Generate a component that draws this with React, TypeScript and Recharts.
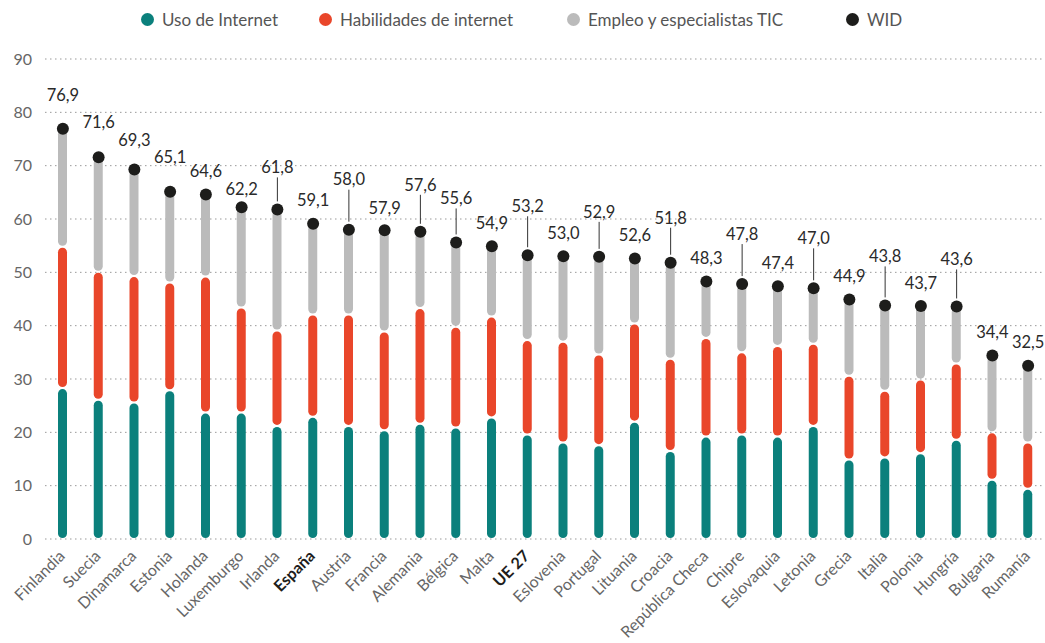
import { ComposedChart, Bar, Line, XAxis, YAxis, CartesianGrid, LabelList } from 'recharts'

const paises = [
  'Finlandia', 'Suecia', 'Dinamarca', 'Estonia', 'Holanda', 'Luxemburgo', 'Irlanda', 'España',
  'Austria', 'Francia', 'Alemania', 'Bélgica', 'Malta', 'UE 27', 'Eslovenia', 'Portugal',
  'Lituania', 'Croacia', 'República Checa', 'Chipre', 'Eslovaquia', 'Letonia', 'Grecia',
  'Italia', 'Polonia', 'Hungría', 'Bulgaria', 'Rumanía'
]

const usoInternet = [
  28.3, 26.1, 25.6, 27.9, 23.7, 23.7, 21.2, 22.9, 21.2, 20.4, 21.6, 20.9, 22.8, 19.6,
  18.1, 17.6, 22.0, 16.5, 19.2, 19.6, 19.2, 21.2, 14.9, 15.3, 16.1, 18.6, 11.1, 9.4
]

const habilidades = [
  26.5, 24.0, 23.7, 20.2, 25.5, 19.7, 17.9, 19.2, 20.9, 18.5, 21.7, 18.9, 18.9, 17.7,
  18.9, 17.0, 18.4, 17.3, 18.5, 15.4, 17.0, 15.4, 15.7, 12.5, 13.8, 14.3, 8.9, 8.7
]

const empleoTic = [
  22.1, 21.5, 20.0, 17.0, 15.4, 18.8, 22.7, 17.0, 15.9, 19.0, 14.3, 15.8, 13.2, 15.9,
  16.0, 18.3, 12.2, 18.0, 10.6, 12.8, 11.2, 10.4, 14.3, 16.0, 13.8, 10.7, 14.4, 14.4
]

const wid = [
  76.9, 71.6, 69.3, 65.1, 64.6, 62.2, 61.8, 59.1, 58.0, 57.9, 57.6, 55.6, 54.9, 53.2,
  53.0, 52.9, 52.6, 51.8, 48.3, 47.8, 47.4, 47.0, 44.9, 43.8, 43.7, 43.6, 34.4, 32.5
]

const yTicks = [0, 10, 20, 30, 40, 50, 60, 70, 80, 90]
const destacados = ['España', 'UE 27']

// how far above the dot each value label sits (px); bigger ones get a leader line
const labelLift = [
  34, 35, 29, 35, 23, 18, 42, 24, 50, 22, 47, 44, 23, 49,
  23, 45, 23, 45, 23, 50, 23, 50, 23, 49, 23, 47, 23, 23
]

const data = paises.map((pais, i) => ({
  pais,
  uso: usoInternet[i],
  hab: habilidades[i],
  emp: empleoTic[i],
  wid: wid[i]
}))

const FONT = 'Lato, "Noto Sans", sans-serif'

const legendItems = [
  { label: 'Uso de Internet', color: '#0b807c', left: 141 },
  { label: 'Habilidades de internet', color: '#e9462a', left: 319 },
  { label: 'Empleo y especialistas TIC', color: '#bbbbbb', left: 567 },
  { label: 'WID', color: '#1d1d1b', left: 846 }
]

const RoundBar = (props: any) => {
  const { x, y, width, height, fill } = props
  if (!height || height <= 2) return null
  return <rect x={x} y={y + 1} width={width} height={height - 2} rx={width / 2} ry={width / 2} fill={fill} />
}

const CountryTick = (props: any) => {
  const { x, y, payload } = props
  const bold = destacados.includes(payload.value)
  return (
    <g transform={`translate(${x},${y})`}>
      <text
        x={3}
        y={16}
        textAnchor="end"
        transform="rotate(-45, 3, 16)"
        fontFamily={FONT}
        fontSize={16}
        fontWeight={bold ? 700 : 400}
        fill={bold ? '#1d1d1b' : '#666'}
      >
        {payload.value}
      </text>
    </g>
  )
}

const ValueLabel = (props: any) => {
  const { x, y, value, index } = props
  const lift = labelLift[index] ?? 23
  const ty = y - lift
  return (
    <g>
      {lift > 40 && <line x1={x} x2={x} y1={ty + 10} y2={y - 8} stroke="#333" strokeWidth={1} />}
      <text x={x} y={ty} dy="0.35em" textAnchor="middle" fontFamily={FONT} fontSize={16.5} fill="#2a2a2a">
        {Number(value).toFixed(1).replace('.', ',')}
      </text>
    </g>
  )
}

export default function App() {
  return (
    <div style={{ position: 'absolute', left: 0, top: 0, width: 1046, height: 643, background: '#fff' }}>
      {legendItems.map((it) => (
        <div
          key={it.label}
          style={{
            position: 'absolute',
            left: it.left,
            top: 9,
            display: 'flex',
            alignItems: 'center',
            fontFamily: FONT,
            fontSize: 17,
            color: '#555',
            whiteSpace: 'nowrap'
          }}
        >
          <span style={{ width: 13, height: 13, borderRadius: '50%', background: it.color, marginRight: 8, display: 'inline-block' }} />
          {it.label}
        </div>
      ))}
      <ComposedChart width={1046} height={643} data={data} margin={{ top: 59, right: 0, bottom: 0, left: 0 }}>
        <CartesianGrid vertical={false} stroke="#999" strokeDasharray="1.5 3.5" />
        <XAxis
          dataKey="pais"
          interval={0}
          axisLine={false}
          tickLine={false}
          tickSize={0}
          height={104}
          tick={<CountryTick />}
        />
        <YAxis
          domain={[0, 90]}
          ticks={yTicks}
          width={45}
          axisLine={false}
          tickLine={false}
          tickSize={0}
          tickMargin={13}
          tick={{ fontFamily: FONT, fontSize: 16, fill: '#666' }}
        />
        <Bar dataKey="uso" stackId="a" fill="#0b807c" barSize={9} shape={<RoundBar />} isAnimationActive={false} />
        <Bar dataKey="hab" stackId="a" fill="#e9462a" barSize={9} shape={<RoundBar />} isAnimationActive={false} />
        <Bar dataKey="emp" stackId="a" fill="#bbbbbb" barSize={9} shape={<RoundBar />} isAnimationActive={false} />
        <Line
          dataKey="wid"
          stroke="none"
          dot={{ r: 6, fill: '#1d1d1b', stroke: 'none' }}
          activeDot={false}
          isAnimationActive={false}
        >
          <LabelList dataKey="wid" content={<ValueLabel />} />
        </Line>
      </ComposedChart>
    </div>
  )
}
